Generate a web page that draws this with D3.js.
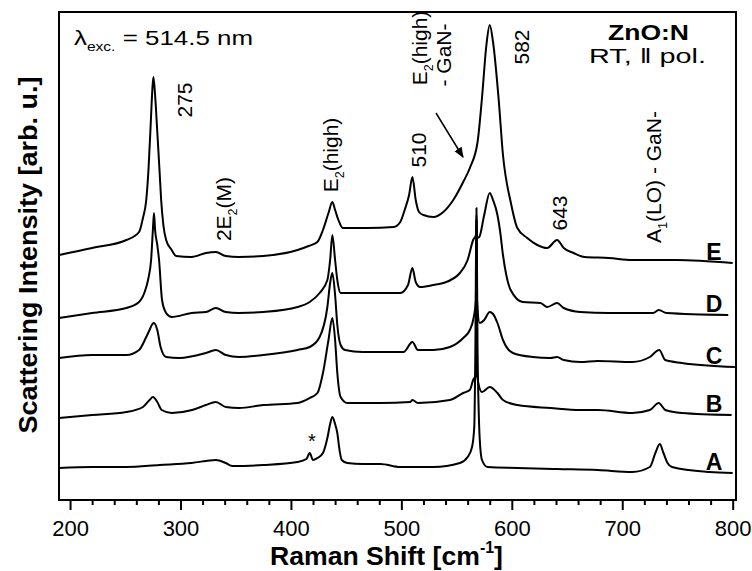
<!doctype html>
<html>
<head>
<meta charset="utf-8">
<style>
    body { margin: 0; background: #fff; }
    text { font-family: "Liberation Sans", Arial, sans-serif; fill: #000; }
    .trace { fill: none; stroke: #000; stroke-width: 2; stroke-linejoin: round; }
    .axis path { display: none; }
    .axis line { stroke: #000; stroke-width: 2; }
</style>
<script src="https://d3js.org/d3.v7.min.js"></script>
</head>
<body>
<svg width="752" height="571"></svg>
<script>

    // spectra: [Raman shift (cm-1), intensity (arb. u., offset included)]
    var specE = [[190,245],[220,252],[251,260],[262.5,268],[266,282],[269,300],[271,330],[273,375],[274.5,410],[275.5,423],[277,405],[279,368],[281,330],[282.5,300],[284.5,275],[287,260],[292,250],[296,244],[310,243],[323,247],[332,248],[341,244],[353,243],[375,244],[406,250],[416,254],[424,258],[429,270],[434,287],[437.5,298],[440,290],[443,280],[447,272],[469,272],[493,273],[499,278],[503,290],[507,305],[510,323],[513,300],[516,288],[520,285],[529,283],[538,288],[547,300],[556,318],[562,332],[569,358],[573,402],[577,455],[580,475],[583,458],[588,402],[592,345],[599,298],[605,272],[614,262],[623,255],[632,252],[641,260],[647,252],[656,247],[666,243],[688,242],[709,240],[749,240],[800,237]];

    var specD = [[190,182],[220,187],[251,192],[262.5,198],[269,213],[271,222],[273.4,240],[275,270],[276,287],[277,270],[279,255],[280.6,240],[283.3,200],[287,187],[292,183],[310,187],[323,188],[332,192],[341,188],[353,187],[375,188],[406,193],[417,198],[426,207],[433,220],[435.5,240],[437.5,265],[440,240],[442,220],[445,207],[449,207],[465,207],[481,207],[499,207],[506,215],[510,232],[513,218],[517,213],[529,215],[538,217],[553,227],[560,240],[565,260],[567.5,265],[568,285],[568.5,262],[570.5,263],[575,285],[580,307],[583,300],[587,285],[589.5,268],[592,245],[595,225],[599,210],[610,198],[626,197],[632,193],[641,197],[647,192],[662,188],[688,187],[728,187],[733,190],[740,187],[796,185]];

    var specC = [[190,142],[220,145],[251,145],[262.5,150],[269,163],[272,170],[274,175],[276,177],[279,170],[282,153],[287,143],[299,142],[323,147],[332,150],[341,145],[353,143],[375,145],[406,150],[417,153],[426,163],[433,193],[435.5,217],[437.5,227],[440,205],[442,175],[445,155],[449,150],[465,148],[493,148],[502,148],[510,158],[515,150],[529,150],[544,153],[556,162],[562,170],[565,180],[567.5,200],[568,280],[568.5,200],[571,177],[575,180],[580,188],[583,186],[587,177],[592,160],[601,147],[619,143],[635,142],[641,143],[647,140],[662,138],[678,139],[709,138],[725,143],[733.5,150],[739,140],[754,137],[802,133]];

    var specB = [[190,82],[220,85],[251,88],[266,93],[272,100],[275,103],[279,98],[283,90],[292,87],[310.5,90],[323,95],[332,98],[341,93],[353,92],[375,95],[406,97],[417,102],[424,107],[429,127],[434,160],[437.5,182],[440,160],[442,127],[445,103],[451,97],[481,97],[508,98],[510,100],[515,97],[544,100],[556,107],[562,110],[565,120],[567.5,125],[568,270],[568.5,125],[573,108],[580,113],[587,107],[592,100],[605,95],[635,92],[662,90],[678,90],[709,87],[725,90],[733,97],[739,90],[754,87],[799,85]];

    var specA = [[190,32],[220,33],[251,33],[281,35],[310,37],[332,40],[341,37],[347,34],[375,35],[406,38],[414,41],[417,47],[420,40],[424,42],[429,47],[433,62],[435.5,76],[437.5,83],[440,76],[442,67],[444,50],[446,40],[451,37],[465,36],[481,36],[499,33],[529,33],[553,37],[560,43],[564,53],[566,73],[567,150],[568,292],[569,150],[570,90],[571,60],[573,40],[578,33],[605,32],[641,31],[678,30],[709,28],[725,33],[730,47],[734,56],[737,48],[741,37],[745,33],[779,28],[800,27]];

    var traces = [specE, specD, specC, specB, specA];
    var traceNames = ["E", "D", "C", "B", "A"];
    var majorTicks = [200, 300, 400, 500, 600, 700, 800];
    var minorTicks = d3.range(200, 801, 20).filter(function(v) { return v % 100 !== 0; });

    var svg = d3.select("svg");
    var plotLeft = 59, plotRight = 736, plotTop = 12, plotBottom = 500;

    var x = d3.scaleLinear().domain([190, 803]).range([plotLeft, plotRight]);
    var y = d3.scaleLinear().domain([0, 488]).range([plotBottom, plotTop]);

    // axis ticks (outside, bottom only)
    svg.append("g")
       .attr("class", "axis")
       .attr("transform", "translate(0," + plotBottom + ")")
       .call(d3.axisBottom(x).tickValues(minorTicks).tickSize(5).tickFormat(""));

    var xAxis = svg.append("g")
       .attr("class", "axis")
       .attr("transform", "translate(0," + plotBottom + ")")
       .call(d3.axisBottom(x).tickValues(majorTicks).tickSize(10).tickPadding(10));
    xAxis.selectAll("text").attr("font-size", 22).attr("font-family", "Liberation Sans, Arial, sans-serif");

    // spectra
    var line = d3.line()
        .x(function(d) { return x(d[0]); })
        .y(function(d) { return y(d[1]); })
        .curve(d3.curveMonotoneX);

    svg.selectAll(".trace")
       .data(traces)
       .enter().append("path")
       .attr("class", "trace")
       .attr("d", line);

    // frame
    svg.append("rect")
       .attr("x", plotLeft).attr("y", plotTop)
       .attr("width", plotRight - plotLeft).attr("height", plotBottom - plotTop)
       .attr("fill", "none").attr("stroke", "#000").attr("stroke-width", 2);

    // sample letters at the right end of each trace
    svg.selectAll(".name")
       .data(traces)
       .enter().append("text")
       .attr("class", "name")
       .attr("x", 714)
       .attr("y", function(d) { return y(d[d.length - 1][1]) - 3; })
       .attr("text-anchor", "middle")
       .attr("font-size", 23)
       .attr("font-weight", "bold")
       .text(function(d, i) { return traceNames[i]; });

    // text with sub/superscripts
    function addParts(t, parts, size) {
        var shift = 0;
        parts.forEach(function(p) {
            var ts = t.append("tspan").text(p[0]);
            var target = 0;
            if (p[1] === "sub") { ts.attr("font-size", size * 0.6); target = size * 0.3; }
            if (p[1] === "sup") { ts.attr("font-size", size * 0.6); target = -size * 0.45; }
            ts.attr("dy", target - shift);
            shift = target;
        });
        return t;
    }

    function rotLabel(px, py, parts, size) {
        var t = svg.append("text")
            .attr("transform", "translate(" + px + "," + py + ") rotate(-90)")
            .attr("text-anchor", "middle")
            .attr("font-size", size);
        return addParts(t, parts, size);
    }

    rotLabel(192, 100, [["275"]], 21);
    rotLabel(231, 209, [["2E"], ["2", "sub"], ["(M)"]], 21);
    rotLabel(338, 155, [["E"], ["2", "sub"], ["(high)"]], 21);
    rotLabel(426, 150, [["510"]], 21);
    rotLabel(427, 48, [["E"], ["2", "sub"], ["(high)"]], 21);
    rotLabel(451, 55, [["- GaN-"]], 21);
    rotLabel(529, 47, [["582"]], 21);
    rotLabel(567, 213, [["643"]], 21);
    rotLabel(661, 177, [["A"], ["1", "sub"], ["(LO) - GaN-"]], 21);

    // arrow towards the E2(high)-GaN shoulder
    svg.append("defs").append("marker")
       .attr("id", "head")
       .attr("viewBox", "0 0 10 10")
       .attr("refX", 9).attr("refY", 5)
       .attr("markerWidth", 7).attr("markerHeight", 7)
       .attr("orient", "auto")
       .append("path").attr("d", "M0,1 L10,5 L0,9 z").attr("fill", "#000");
    svg.append("line")
       .attr("x1", 436).attr("y1", 113).attr("x2", 463).attr("y2", 157)
       .attr("stroke", "#000").attr("stroke-width", 1.5)
       .attr("marker-end", "url(#head)");

    svg.append("text")
       .attr("x", x(419)).attr("y", 448)
       .attr("text-anchor", "middle")
       .attr("font-size", 20)
       .text("*");

    // header texts
    addParts(svg.append("text").attr("x", 74).attr("y", 45).attr("font-size", 21)
        .attr("textLength", 179).attr("lengthAdjust", "spacingAndGlyphs"),
        [["λ"], ["exc.", "sub"], [" = 514.5 nm"]], 21);

    svg.append("text")
       .attr("x", 608).attr("y", 40)
       .attr("font-size", 22).attr("font-weight", "bold")
       .attr("textLength", 81).attr("lengthAdjust", "spacingAndGlyphs")
       .text("ZnO:N");

    svg.append("text")
       .attr("x", 589).attr("y", 63)
       .attr("font-size", 21)
       .attr("textLength", 117).attr("lengthAdjust", "spacingAndGlyphs")
       .text("RT, \u2016 pol.");

    // axis titles
    addParts(svg.append("text").attr("x", 270).attr("y", 565)
        .attr("font-size", 26).attr("font-weight", "bold")
        .attr("textLength", 233).attr("lengthAdjust", "spacingAndGlyphs"),
        [["Raman Shift [cm"], ["-1", "sup"], ["]"]], 26);

    svg.append("text")
       .attr("transform", "translate(37,255) rotate(-90)")
       .attr("text-anchor", "middle")
       .attr("font-size", 26).attr("font-weight", "bold")
       .attr("textLength", 357).attr("lengthAdjust", "spacingAndGlyphs")
       .text("Scattering Intensity [arb. u.]");

</script>
</body>
</html>
